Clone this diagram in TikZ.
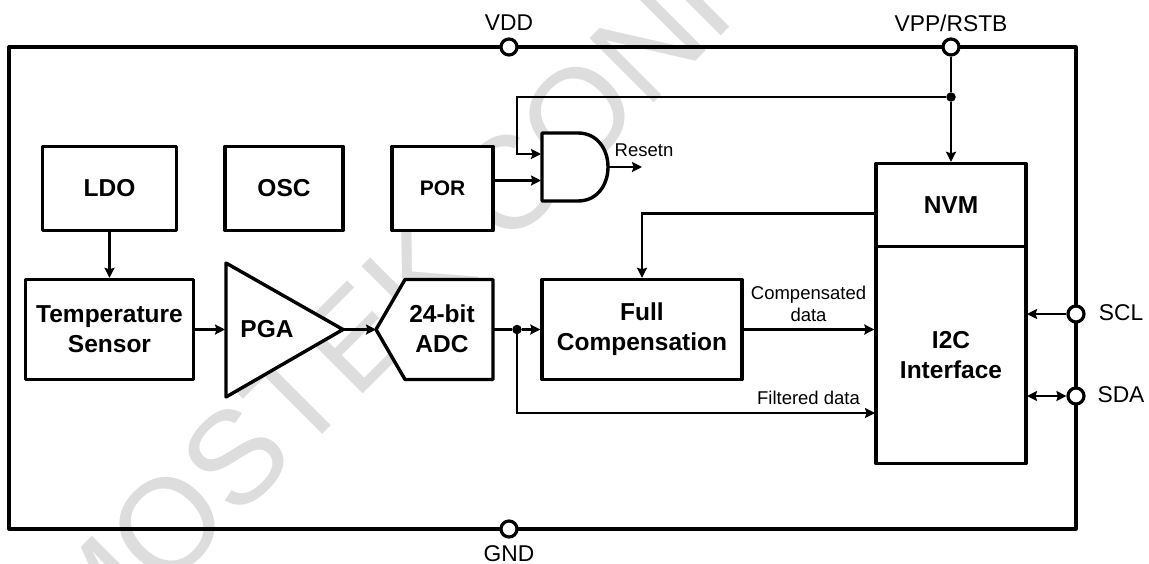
\documentclass[tikz,border=0pt]{standalone}
\usepackage{fontspec}
\setmainfont{Liberation Sans}
\usetikzlibrary{arrows.meta}
\definecolor{wm}{HTML}{DDDDDD}
\tikzset{
  blk/.style={draw=black,fill=white,line width=3.4pt,inner sep=0pt,align=center,font=\fontsize{24.5}{30}\selectfont\bfseries,line join=round},
  btxt/.style={inner sep=0pt,align=center,font=\fontsize{24.5}{30}\selectfont\bfseries},
  lbl/.style={inner sep=0pt,font=\fontsize{22.8}{25}\selectfont},
  small/.style={inner sep=0pt,font=\fontsize{18.5}{22}\selectfont,align=center},
  pin/.style={circle,draw=black,fill=white,line width=3.2pt,minimum size=16pt,inner sep=0pt},
  jn/.style={circle,fill=black,minimum size=9.5pt,inner sep=0pt},
  wire/.style={line width=2.2pt,-{Stealth[length=10pt,width=10pt,inset=1.5pt]}},
  dwire/.style={line width=2.2pt,{Stealth[length=10pt,width=10pt,inset=1.5pt]}-{Stealth[length=10pt,width=10pt,inset=1.5pt]}},
  pwire/.style={line width=2.2pt},
  rail/.style={line width=3.2pt,line join=round}
}
\begin{document}
\begin{tikzpicture}[x=1pt,y=-1pt]
\useasboundingbox (0,0) rectangle (1149,563);
% watermark
\begin{scope}
\clip (0,0) rectangle (1149,563);
\node[rotate=45,text=wm,inner sep=0pt,anchor=base west,font=\fontsize{132}{132}\selectfont] (wmark) at (86,671) {MOSTEK CONFIDENTIAL};
\end{scope}
% outer rails
\coordinate (tl) at (9,47);
\coordinate (tr) at (1076,47);
\coordinate (br) at (1076,529);
\coordinate (bl) at (9,529);
\draw[rail] (tl) -- (tr) -- (br) -- (bl) -- cycle;
% blocks
\node[blk,minimum width=134pt,minimum height=84pt] (ldo) at (109.5,188.5) {LDO};
\node[blk,minimum width=118pt,minimum height=84pt] (osc) at (284,188.5) {OSC};
\node[blk,minimum width=101pt,minimum height=84pt,font=\fontsize{21}{25}\selectfont\bfseries] (por) at (442.5,188.5) {POR};
\node[blk,minimum width=168pt,minimum height=100pt] (temp) at (109.5,329.5) {Temperature\\Sensor};
\node[blk,minimum width=200pt,minimum height=100pt] (comp) at (642,329.5) {Full\\Compensation};
\node[blk,minimum width=150pt,minimum height=83pt] (nvm) at (951,205) {NVM};
\node[blk,minimum width=150pt,minimum height=217pt] (i2c) at (951,355) {};
\node[btxt] (i2ct) at (951,355) {I2C\\Interface};
% PGA
\coordinate (pgaA) at (226,263);
\coordinate (pgaB) at (226,397);
\coordinate (pgaTip) at (343,329.5);
\draw[blk] (pgaA) -- (pgaTip) -- (pgaB) -- cycle;
\node[btxt] (pga) at (267,329) {PGA};
% ADC
\coordinate (adcTip) at (376,329.5);
\draw[blk] (adcTip) -- (405,279.5) -- (493,279.5) -- (493,379.5) -- (405,379.5) -- cycle;
\coordinate (adcR) at (493,329.5);
\node[btxt] (adc) at (442,329) {24-bit\\ADC};
% AND gate
\coordinate (gateT) at (542,133);
\coordinate (gateB) at (542,201);
\coordinate (gateO) at (608,167);
\draw[blk] (gateT) -- (578,133) .. controls (597,133) and (608,149) .. (gateO) .. controls (608,185) and (597,201) .. (578,201) -- (gateB) -- cycle;
\coordinate (gateI1) at (541,154);
\coordinate (gateI2) at (541,180.5);
\coordinate (rst) at (642,167);
% pins
\node[pin] (vdd) at (509,47) {};
\node[pin] (vpp) at (951,47) {};
\node[pin] (gnd) at (509,529) {};
\node[pin] (scl) at (1076,314) {};
\node[pin] (sda) at (1076,396) {};
\node[jn] (j1) at (951,97) {};
\node[jn] (j2) at (517,329.5) {};
% wires
\draw[wire] (ldo.south) -- (temp.north -| ldo.south);
\draw[wire] (temp.east |- pgaTip) -- (225,329.5);
\draw[wire] (pgaTip) -- (adcTip);
\draw[pwire] (adcR) -- (j2);
\draw[wire] (j2) -- (comp.west |- j2);
\draw[pwire] (vpp) -- (j1);
\draw[wire] (j1) -- (nvm.north);
\draw[wire] (j1) -- (517,97) -- (517,154) -- (gateI1);
\draw[wire] (por.east |- gateI2) -- (gateI2);
\draw[wire] (gateO) -- (rst);
\draw[wire] (nvm.west |- 0,213.5) -| (comp.north);
\draw[wire] (comp.east) -- (i2c.west |- comp.east);
\draw[wire] (j2) |- (875,413);
\draw[wire] (scl) -- (1027,314);
\draw[dwire] (1027,396) -- (sda);
% labels
\node[lbl] (tvdd) at (509,23) {VDD};
\node[lbl] (tvpp) at (951,23) {VPP/RSTB};
\node[lbl] (tgnd) at (509,554) {GND};
\node[lbl] (tscl) at (1121,312.5) {SCL};
\node[lbl] (tsda) at (1121,395) {SDA};
\node[small] (trst) at (644,150) {Resetn};
\node[small] (tcomp) at (808.5,304) {Compensated\\data};
\node[small] (tfilt) at (808.5,398) {Filtered data};
\end{tikzpicture}
\end{document}
